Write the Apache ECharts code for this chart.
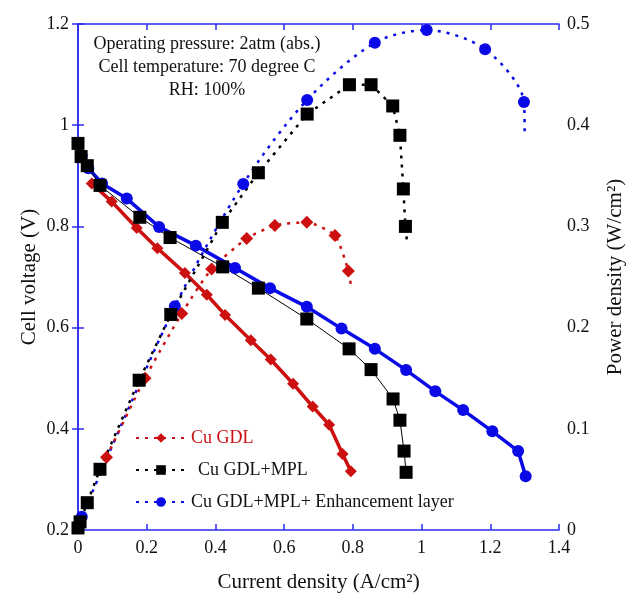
<!DOCTYPE html>
<html>
<head>
<meta charset="utf-8">
<script src="https://cdn.jsdelivr.net/npm/echarts@6/dist/echarts.min.js"></script>
<style>
  html, body { margin: 0; padding: 0; background: #fff; }
  #chart { width: 631px; height: 597px; }
</style>
</head>
<body>
<div id="chart"></div>
<script>
// polarization curves (cell voltage, left axis)
const redX = [0.04, 0.098, 0.171, 0.231, 0.311, 0.375, 0.428, 0.503, 0.561, 0.626, 0.683, 0.731, 0.770, 0.794]
const redV = [0.885, 0.849, 0.797, 0.757, 0.708, 0.665, 0.625, 0.575, 0.537, 0.489, 0.444, 0.408, 0.350, 0.316]

const blackX = [0, 0.009, 0.027, 0.064, 0.18, 0.268, 0.421, 0.525, 0.666, 0.789, 0.853, 0.917, 0.937, 0.949, 0.955]
const blackV = [0.964, 0.938, 0.920, 0.881, 0.818, 0.778, 0.720, 0.678, 0.617, 0.558, 0.517, 0.459, 0.417, 0.356, 0.314]

const blueX = [0, 0.011, 0.03, 0.07, 0.142, 0.236, 0.343, 0.457, 0.559, 0.666, 0.767, 0.864, 0.955, 1.040, 1.121, 1.206, 1.281, 1.303]
const blueV = [0.965, 0.94, 0.915, 0.885, 0.855, 0.799, 0.762, 0.718, 0.678, 0.641, 0.598, 0.558, 0.516, 0.474, 0.437, 0.395, 0.356, 0.306]

// power density curves (right axis); last point of each is the unmarked tail of the dotted line
const redPX = [0.083, 0.195, 0.302, 0.389, 0.491, 0.573, 0.666, 0.748, 0.787, 0.795]
const redP = [0.072, 0.150, 0.214, 0.258, 0.288, 0.301, 0.304, 0.291, 0.256, 0.240]

const blackPX = [0, 0.006, 0.027, 0.064, 0.178, 0.270, 0.420, 0.525, 0.667, 0.790, 0.853, 0.916, 0.937, 0.947, 0.953, 0.957]
const blackP = [0.002, 0.008, 0.027, 0.060, 0.148, 0.213, 0.304, 0.353, 0.411, 0.440, 0.440, 0.419, 0.390, 0.337, 0.300, 0.287]

const bluePX = [0.011, 0.282, 0.481, 0.667, 0.864, 1.015, 1.185, 1.298, 1.300]
const blueP = [0.013, 0.221, 0.342, 0.425, 0.4815, 0.494, 0.475, 0.423, 0.394]

const xTicks = { min: 0, max: 1.4, interval: 0.2 }
const vTicks = { min: 0.2, max: 1.2, interval: 0.2 }
const pTicks = { min: 0, max: 0.5, interval: 0.1 }

const notes = ['Operating pressure: 2atm (abs.)', 'Cell temperature: 70 degree C', 'RH: 100%']

const FONT = '"Liberation Serif", "DejaVu Serif", serif'
const AXIS_BLUE = '#2b2bf0'
const RED = '#cc1010'
const BLUE = '#0a0ae6'

const pairs = (xs, ys) => xs.map((x, i) => [x, ys[i]])
// hide the marker on the tail point of a dotted power line
const withTail = (xs, ys) => xs.map((x, i) => i === xs.length - 1 ? { value: [x, ys[i]], symbol: 'none' } : [x, ys[i]])

function label(fmt) {
    return { color: '#111', fontFamily: FONT, fontSize: 18, formatter: fmt }
}
const fmt = v => String(Math.round(v * 10) / 10)
const nameStyle = { color: '#111', fontFamily: FONT, fontSize: 21 }

const axisLine = { show: true, lineStyle: { color: AXIS_BLUE, width: 1.5 } }
const axisTick = { show: true, inside: true, length: 6, lineStyle: { color: AXIS_BLUE, width: 1.5 } }

const chart = echarts.init(document.getElementById('chart'))
chart.setOption({
    animation: false,
    backgroundColor: '#fff',
    grid: { left: 78, right: 72, top: 24, bottom: 67, outerBoundsMode: 'none' },
    xAxis: [{
        type: 'value', ...xTicks,
        name: 'Current density (A/cm²)', nameLocation: 'middle', nameGap: 42, nameMoveOverlap: false,
        nameTextStyle: nameStyle,
        axisLine, axisTick, splitLine: { show: false },
        axisLabel: { ...label(fmt), margin: 9 }
    }, {
        type: 'value', ...xTicks, position: 'top',
        axisLine, axisTick, splitLine: { show: false },
        axisLabel: { show: false }
    }],
    yAxis: [{
        type: 'value', ...vTicks,
        name: 'Cell voltage (V)', nameLocation: 'middle', nameGap: 38, nameRotate: 90, nameMoveOverlap: false,
        nameTextStyle: nameStyle,
        axisLine, axisTick, splitLine: { show: false },
        axisLabel: { ...label(fmt), margin: 9 }
    }, {
        type: 'value', ...pTicks, position: 'right',
        name: 'Power density (W/cm²)', nameLocation: 'middle', nameGap: 46, nameRotate: 90, nameMoveOverlap: false,
        nameTextStyle: nameStyle,
        axisLine, axisTick, splitLine: { show: false },
        axisLabel: { ...label(fmt), margin: 8 }
    }],
    legend: {
        orient: 'vertical', left: 130, top: 423,
        itemWidth: 50, itemHeight: 12, itemGap: 12,
        textStyle: { color: '#111', fontFamily: FONT, fontSize: 18, lineHeight: 20 },
        data: [
            { name: 'Cu GDL', textStyle: { color: RED } },
            { name: 'Cu GDL+MPL', textStyle: { padding: [0, 0, 0, 7] } },
            { name: 'Cu GDL+MPL+ Enhancement layer' }
        ]
    },
    graphic: notes.map((t, i) => ({
        type: 'text', x: 207, y: 44 + i * 23,
        style: { text: t, fill: '#111', font: '18px ' + FONT, textAlign: 'center', textVerticalAlign: 'middle' }
    })),
    series: [
        {
            name: 'Cu GDL+MPL+ Enhancement layer', type: 'line', yAxisIndex: 1, smooth: 0.3,
            data: withTail(bluePX, blueP),
            symbol: 'circle', symbolSize: 12,
            itemStyle: { color: BLUE },
            lineStyle: { color: BLUE, width: 2.5, type: [3, 6] }
        },
        {
            name: 'blue V', type: 'line',
            data: pairs(blueX, blueV),
            symbol: 'circle', symbolSize: 12,
            itemStyle: { color: BLUE },
            lineStyle: { color: BLUE, width: 3.5 }
        },
        {
            name: 'Cu GDL', type: 'line', yAxisIndex: 1, smooth: 0.2,
            data: withTail(redPX, redP),
            symbol: 'diamond', symbolSize: 13,
            itemStyle: { color: RED },
            lineStyle: { color: RED, width: 2.5, type: [3, 6] }
        },
        {
            name: 'red V', type: 'line',
            data: pairs(redX, redV),
            symbol: 'diamond', symbolSize: 12,
            itemStyle: { color: RED },
            lineStyle: { color: RED, width: 3.5 }
        },
        {
            name: 'Cu GDL+MPL', type: 'line', yAxisIndex: 1,
            data: withTail(blackPX, blackP),
            symbol: 'rect', symbolSize: 13,
            itemStyle: { color: '#000' },
            lineStyle: { color: '#000', width: 2.5, type: [3, 6] }
        },
        {
            name: 'black V', type: 'line',
            data: pairs(blackX, blackV),
            symbol: 'rect', symbolSize: 13,
            itemStyle: { color: '#000' },
            lineStyle: { color: '#000', width: 1 }
        }
    ]
})
</script>
</body>
</html>
